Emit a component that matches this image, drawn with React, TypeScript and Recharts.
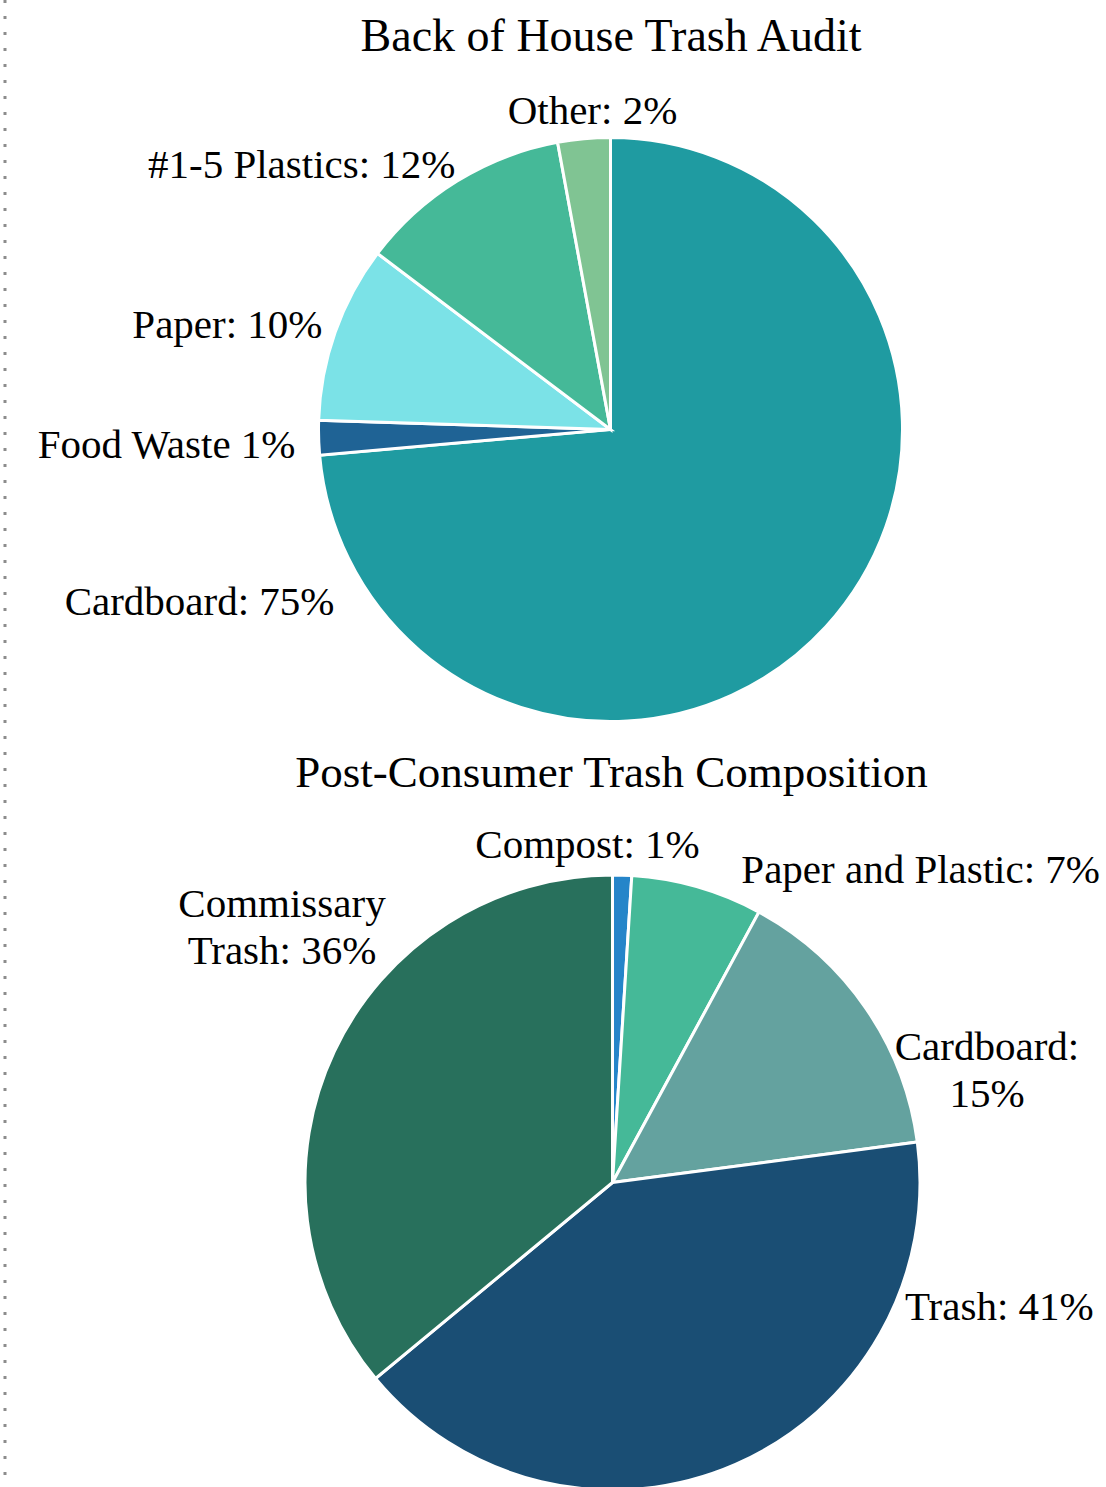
import React from "react";
import { PieChart, Pie, Cell } from "recharts";

// ---- Data ----
const topTitle = "Back of House Trash Audit";
const topNames = ["Cardboard", "Food Waste", "Paper", "#1-5 Plastics", "Other"];
const topValues = [73.6, 1.9, 9.8, 11.8, 2.9];
const topLabels = [["Cardboard: 75%"], ["Food Waste 1%"], ["Paper: 10%"], ["#1-5 Plastics: 12%"], ["Other: 2%"]];

const bottomTitle = "Post-Consumer Trash Composition";
const bottomNames = ["Compost", "Paper and Plastic", "Cardboard", "Trash", "Commissary Trash"];
const bottomValues = [1.0, 6.9, 15.0, 41.1, 36.0];
const bottomLabels = [["Compost: 1%"], ["Paper and Plastic: 7%"], ["Cardboard:", "15%"], ["Trash: 41%"], ["Commissary", "Trash: 36%"]];

// ---- Styles / layout ----
const topColors = ["#1f9ba1", "#1f6395", "#7be2e7", "#45b998", "#80c493"];
const bottomColors = ["#2585c9", "#45b998", "#64a29f", "#1a4e74", "#28705c"];

// label anchor offsets relative to pie centre (text layout, not marks)
const topLabelLayout = [
  { dx: -276, dy: 185, anchor: "end" },
  { dx: -315, dy: 28, anchor: "end" },
  { dx: -288, dy: -92, anchor: "end" },
  { dx: -155, dy: -252, anchor: "end" },
  { dx: -18, dy: -306, anchor: "middle" },
];
const bottomLabelLayout = [
  { dx: -25, dy: -324.5, anchor: "middle" },
  { dx: 487.5, dy: -299.5, anchor: "end" },
  { dx: 374.5, dy: -122.5, anchor: "middle" },
  { dx: 292.5, dy: 137.5, anchor: "start" },
  { dx: -330.5, dy: -265.5, anchor: "middle" },
];

const FONT = "'Liberation Serif', 'Times New Roman', serif";
const W = 1106;
const H = 1487;

const topData = topNames.map((n, i) => ({ name: n, value: topValues[i] }));
const bottomData = bottomNames.map((n, i) => ({ name: n, value: bottomValues[i] }));

function makeLabel(labels: string[][], layout: { dx: number; dy: number; anchor: string }[]) {
  return (props: any) => {
    const { cx, cy, index } = props;
    const l = layout[index];
    const lines = labels[index];
    return (
      <text
        key={`lbl-${index}`}
        x={cx + l.dx}
        y={cy + l.dy}
        textAnchor={l.anchor as any}
        fontFamily={FONT}
        fontSize={41}
        fill="#000"
      >
        {lines.map((t, k) => (
          <tspan key={k} x={cx + l.dx} dy={k === 0 ? 0 : 47}>
            {t}
          </tspan>
        ))}
      </text>
    );
  };
}

export default function App() {
  return (
    <div style={{ position: "absolute", left: 0, top: 0, width: W, height: H, background: "#fff", overflow: "hidden" }}>
      <svg width={W} height={H} style={{ position: "absolute", left: 0, top: 0 }}>
        <line x1={5} y1={0} x2={5} y2={H} stroke="#8c8c8c" strokeWidth={3} strokeDasharray="3 13" />
        <text x={611} y={51} textAnchor="middle" fontFamily={FONT} fontSize={46} fill="#000">
          {topTitle}
        </text>
        <text x={611.5} y={787} textAnchor="middle" fontFamily={FONT} fontSize={45} fill="#000">
          {bottomTitle}
        </text>
      </svg>
      <div style={{ position: "absolute", left: 0, top: 0 }}>
        <PieChart width={W} height={H} margin={{ top: 0, right: 0, bottom: 0, left: 0 }}>
          <Pie
            data={topData}
            dataKey="value"
            nameKey="name"
            cx={610.5}
            cy={429.5}
            outerRadius={292}
            startAngle={90}
            endAngle={-270}
            stroke="#ffffff"
            strokeWidth={3}
            labelLine={false}
            label={makeLabel(topLabels, topLabelLayout)}
            isAnimationActive={false}
          >
            {topData.map((d, i) => (
              <Cell key={d.name} fill={topColors[i]} />
            ))}
          </Pie>
          <Pie
            data={bottomData}
            dataKey="value"
            nameKey="name"
            cx={612.5}
            cy={1182.5}
            outerRadius={307.5}
            startAngle={90}
            endAngle={-270}
            stroke="#ffffff"
            strokeWidth={3}
            labelLine={false}
            label={makeLabel(bottomLabels, bottomLabelLayout)}
            isAnimationActive={false}
          >
            {bottomData.map((d, i) => (
              <Cell key={d.name} fill={bottomColors[i]} />
            ))}
          </Pie>
        </PieChart>
      </div>
    </div>
  );
}
